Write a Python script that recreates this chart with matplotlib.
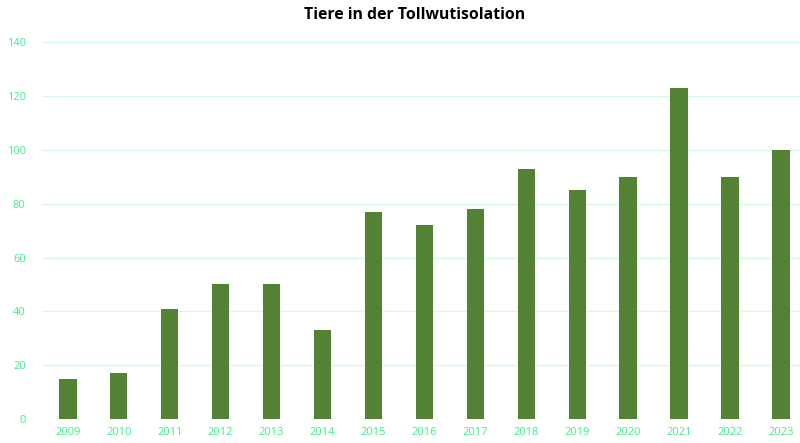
import numpy as np
import matplotlib
matplotlib.use("Agg")
import matplotlib.pyplot as plt

plt.rcParams['font.family'] = ['Open Sans', 'DejaVu Sans']

years = ['2009', '2010', '2011', '2012', '2013', '2014', '2015', '2016',
         '2017', '2018', '2019', '2020', '2021', '2022', '2023']
counts = [15, 17, 41, 50, 50, 33, 77, 72, 78, 93, 85, 90, 123, 90, 100]

fig = plt.figure(figsize=(8, 4.43), dpi=100)
ax = fig.add_axes([0.053, 0.054, 0.955, 0.851])

x = np.arange(len(years))
ax.bar(x, counts, width=0.34, color='#548235', zorder=3)

ax.set_xlim(-0.5, len(years) - 0.5)
ax.set_ylim(0, 140)
ax.set_yticks(range(0, 141, 20))
ax.set_xticks(x)
ax.set_xticklabels(years)
ax.grid(axis='y', color='#d4fbe6', linewidth=1, zorder=0)
ax.tick_params(axis='both', length=0, colors='#3df08a', labelsize=8)
ax.tick_params(axis='y', pad=12)
ax.tick_params(axis='x', pad=6)
for s in ax.spines.values():
    s.set_visible(False)

fig.suptitle('Tiere in der Tollwutisolation', fontsize=11.3, fontweight='bold',
             y=0.985, x=0.518)

plt.savefig('out.png', dpi=100)
